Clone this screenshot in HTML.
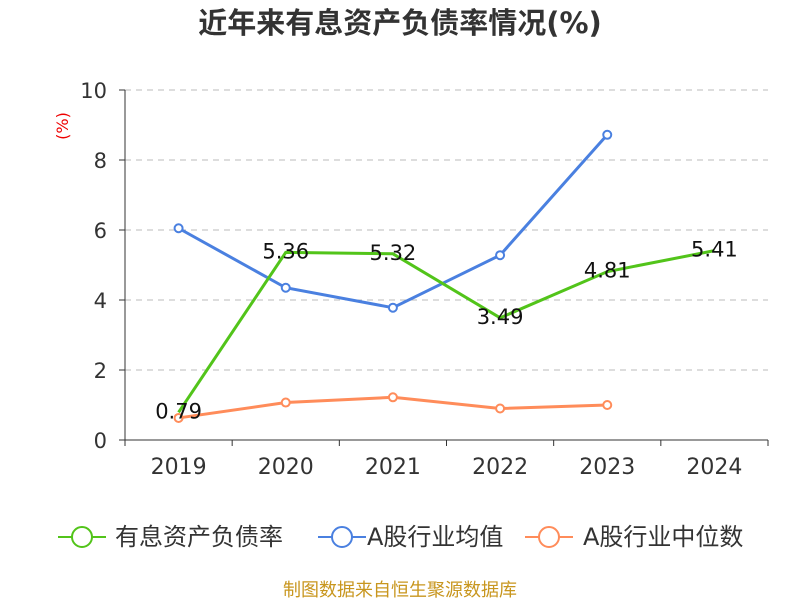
<!DOCTYPE html>
<html><head><meta charset="utf-8"><style>
body{margin:0;background:#fff;}
svg{display:block;font-family:"DejaVu Sans","Noto Sans CJK SC",sans-serif;}
</style></head><body>
<svg width="800" height="600" id="c">
<text x="400" y="33" text-anchor="middle" font-size="29" font-weight="bold" fill="#333">近年来有息资产负债率情况(%)</text>
<text transform="translate(68,126) rotate(-90)" text-anchor="middle" font-size="16" fill="#e00">(%)</text>
<g id="grid"></g><g id="axes"></g><g id="series"></g>
<g>
<g><line x1="58" y1="537" x2="106" y2="537" stroke="#52c41a" stroke-width="2"/><circle cx="82" cy="537" r="10" fill="#fff" stroke="#52c41a" stroke-width="2"/><text x="115" y="545" font-size="24" fill="#333">有息资产负债率</text></g>
<g><line x1="318" y1="537" x2="366" y2="537" stroke="#4a80e0" stroke-width="2"/><circle cx="342" cy="537" r="10" fill="#fff" stroke="#4a80e0" stroke-width="2"/><text x="367" y="545" font-size="24" fill="#333">A股行业均值</text></g>
<g><line x1="525" y1="537" x2="573" y2="537" stroke="#ff8c5a" stroke-width="2"/><circle cx="549" cy="537" r="10" fill="#fff" stroke="#ff8c5a" stroke-width="2"/><text x="583" y="545" font-size="24" fill="#333">A股行业中位数</text></g>
</g>
<text x="400" y="596" text-anchor="middle" font-size="18" fill="#c8961e">制图数据来自恒生聚源数据库</text>
</svg>
<script>
const categories=["2019","2020","2021","2022","2023","2024"];
const debtRatio=[0.79,5.36,5.32,3.49,4.81,5.41];
const industryMean=[6.05,4.35,3.78,5.28,8.72,null];
const industryMedian=[0.63,1.07,1.22,0.90,1.00,null];
const yTicks=[0,2,4,6,8,10];
const NS="http://www.w3.org/2000/svg";
const x0=125,x1=768,y0=440,y1=90,yMax=10;
const bw=(x1-x0)/categories.length;
function xs(i){return x0+bw*(i+0.5);}
function ys(v){return y0-(v/yMax)*(y0-y1);}
function mk(p,t,a){const e=document.createElementNS(NS,t);for(const k in a)e.setAttribute(k,a[k]);p.appendChild(e);return e;}
const grid=document.getElementById('grid'),axes=document.getElementById('axes'),ser=document.getElementById('series');
yTicks.forEach(v=>{
 if(v>0){const g=mk(grid,'line',{x1:x0,x2:x1,y1:ys(v),y2:ys(v),stroke:'#bbb','stroke-dasharray':'6,5'});
 
 }
 const t=mk(axes,'text',{x:107,y:ys(v)+8,'text-anchor':'end','font-size':21,fill:'#333'});t.textContent=v;
 
 
 mk(axes,'line',{x1:x0-6,x2:x0,y1:ys(v),y2:ys(v),stroke:'#333'});
});
const ya=mk(axes,'line',{x1:x0,x2:x0,y1:y1,y2:y0,stroke:'#333'});


const xa=mk(axes,'line',{x1:x0,x2:x1,y1:y0,y2:y0,stroke:'#333'});


for(let i=0;i<=categories.length;i++)mk(axes,'line',{x1:x0+bw*i,x2:x0+bw*i,y1:y0,y2:y0+6,stroke:'#333'});
categories.forEach((c,i)=>{const t=mk(axes,'text',{x:xs(i),y:474,'text-anchor':'middle','font-size':22,fill:'#333'});t.textContent=c;
 
 });
function line(data,color,name,markers){
 const pts=[];data.forEach((v,i)=>{if(v!=null)pts.push([xs(i),ys(v)]);});
 const p=mk(ser,'polyline',{points:pts.map(p=>p.join(',')).join(' '),fill:'none',stroke:color,'stroke-width':3});
 
 
 if(markers)pts.forEach(q=>{const c=mk(ser,'circle',{cx:q[0],cy:q[1],r:4,fill:'#fff',stroke:color,'stroke-width':2});
 
 });
}
line(industryMedian,'#ff8c5a','industry-median',true);
line(industryMean,'#4a80e0','industry-mean',true);
line(debtRatio,'#52c41a','debt-ratio',false);
debtRatio.forEach((v,i)=>{const t=mk(ser,'text',{x:xs(i),y:ys(v)+6,'text-anchor':'middle','font-size':21,fill:'#111'});t.textContent=v.toFixed(2);
 
 });
</script>
</body></html>
